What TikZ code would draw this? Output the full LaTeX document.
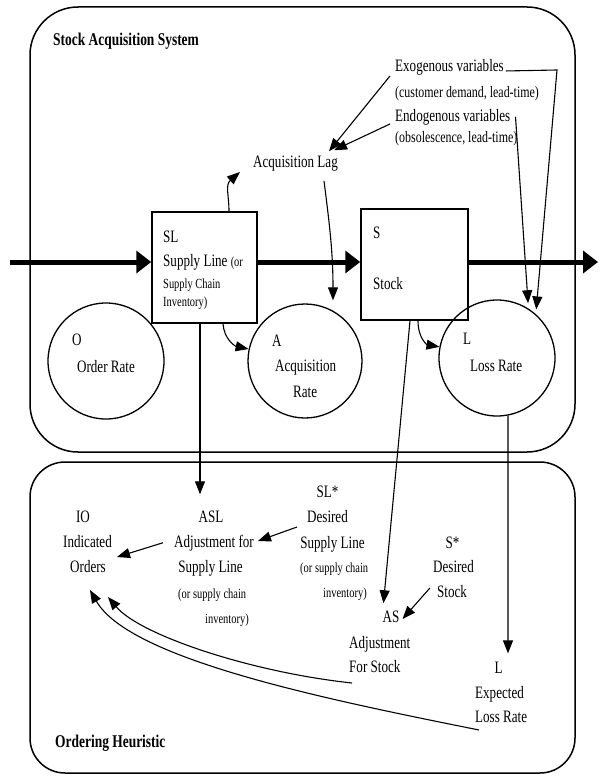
\documentclass[tikz,border=0pt]{standalone}
\usepackage{fontspec}
\setmainfont{Liberation Serif}[FakeStretch=0.75]
\usetikzlibrary{arrows.meta,calc}
\newcommand\mainsz{\fontsize{17.5}{20}\selectfont}
\newcommand\smallsz{\fontsize{14}{16}\selectfont}
\newcommand\midsz{\fontsize{16}{18}\selectfont}
\begin{document}
\begin{tikzpicture}[x=1bp,y=-1bp,
  lbl/.style={inner sep=0pt, anchor=base west, font=\mainsz},
  clbl/.style={inner sep=0pt, anchor=base, font=\mainsz},
  small/.style={font=\smallsz},
  mid/.style={font=\midsz},
  ttl/.style={font=\fontsize{18}{20}\selectfont\bfseries},
  frame/.style={draw, line width=1.5bp},
  stockbox/.style={draw, rectangle, line width=1.5bp, inner sep=0pt},
  rate/.style={draw, circle, line width=1.3bp, inner sep=0pt},
  arr/.style={line width=1.1bp, -{Triangle[length=13bp,width=10bp]}},
  thickarr/.style={line width=5bp, -{Triangle[length=15bp,width=22bp]}}
]
\path[use as bounding box, fill=white] (0,0) rectangle (600,776);

% frames
\draw[frame, rounded corners=48bp] (30,7) rectangle (575,452);
\draw[frame, rounded corners=35bp] (30,462) rectangle (575,773);

% stocks and rates
\node[stockbox, minimum width=105bp, minimum height=111bp] (SL) at (204.5,267.5) {};
\node[stockbox, minimum width=107bp, minimum height=111bp] (S) at (414.5,264.5) {};
\node[rate, minimum size=116bp] (O) at (106,361) {};
\node[rate, minimum size=114bp] (A) at (305,361) {};
\node[rate, minimum size=116bp] (L) at (497,358) {};

% titles
\node[lbl,ttl] (t1) at (53,46) {Stock Acquisition System};
\node[lbl,ttl] (t2) at (55,747) {Ordering Heuristic};

% top texts
\node[lbl] (slT1) at (163,242) {SL};
\node[lbl] (slT2) at (163,266) {Supply Line {\smallsz(or}};
\node[lbl,small] (slT3) at (163,288) {Supply Chain};
\node[lbl,small] (slT4) at (163,306) {Inventory)};
\node[lbl] (sT1) at (373,238) {S};
\node[lbl] (sT2) at (373,289) {Stock};
\node[lbl] (oT1) at (72,345) {O};
\node[clbl] (oT2) at (106,372) {Order Rate};
\node[lbl] (aT1) at (272,346) {A};
\node[lbl] (aT2) at (275,371) {Acquisition};
\node[lbl] (aT3) at (293,397) {Rate};
\node[lbl] (lT1) at (463,344) {L};
\node[lbl] (lT2) at (470,371) {Loss Rate};
\node[lbl] (lag) at (253,167) {Acquisition Lag};
\node[lbl] (exo) at (395,72) {Exogenous variables};
\node[lbl,mid] (exo2) at (395,97) {(customer demand, lead-time)};
\node[lbl] (endo) at (395,121) {Endogenous variables};
\node[lbl,mid] (endo2) at (395,142) {(obsolescence, lead-time)};

% bottom texts
\node[clbl] (io1) at (83,522) {IO};
\node[clbl] (io2) at (87.5,547) {Indicated};
\node[clbl] (io3) at (88,572) {Orders};
\node[clbl] (asl1) at (211,522) {ASL};
\node[clbl] (asl2) at (214,547) {Adjustment for};
\node[clbl] (asl3) at (210.5,572) {Supply Line};
\node[lbl,small] (asl4) at (178,598) {(or supply chain};
\node[lbl,small] (asl5) at (205,623) {inventory)};
\node[clbl] (dsl1) at (327.5,497) {SL*};
\node[clbl] (dsl2) at (327.5,522) {Desired};
\node[clbl] (dsl3) at (332.5,548) {Supply Line};
\node[lbl,small] (dsl4) at (300,572) {(or supply chain};
\node[lbl,small] (dsl5) at (323,597) {inventory)};
\node[clbl] (ds1) at (452.5,548) {S*};
\node[clbl] (ds2) at (453.5,572) {Desired};
\node[clbl] (ds3) at (452,597) {Stock};
\node[clbl] (as1) at (391,622) {AS};
\node[lbl] (as2) at (349,648) {Adjustment};
\node[lbl] (as3) at (349,672) {For Stock};
\node[clbl] (el1) at (498.5,673) {L};
\node[lbl] (el2) at (475,698) {Expected};
\node[lbl] (el3) at (475,722) {Loss Rate};

% free ends
\coordinate (fin) at (10,262);
\coordinate (fout) at (598,262);
\coordinate (exobend) at (557,70);

% main flow
\draw[thickarr] (fin) -- (fin -| SL.west);
\draw[thickarr] (fin -| SL.east) -- (fin -| S.west);
\draw[thickarr] (fin -| S.east) -- (fout);

% top connectors
\draw[arr] ($(SL.north)+(24.5,0)$) .. controls +(0,-16) and +(-15,13) .. ($(lag.south west)+(-13,1)$);
\draw[arr] ($(lag.south east)+(-14,10)$) .. controls +(5,40) and +(0,-50) .. ($(A.north)+(28,-3)$);
\draw[arr] ($(exo.south west)+(-5,0)$) -- ($(lag.north east)+(-9,-4)$);
\draw[arr] ($(endo.south west)+(-5,-1)$) -- ($(lag.north east)+(-4,-5)$);
\draw[arr] ($(exo.south east)+(2,-5)$) -- (exobend) -- ($(L.48)+(0,-5)$);
\draw[arr] ($(endo.east)+(5,0)$) -- ($(L.58)+(0,-5)$);
\draw[arr] ($(S.south)+(3.5,0)$) .. controls +(0,18) and +(-12,-2) .. (L.169);
\draw[arr] ($(SL.south)+(18.5,0)$) .. controls +(1,15) and +(-14,-3) .. (A.168);

% links to ordering heuristic
\draw[arr] ($(SL.south)+(-4.5,0)$) -- ($(asl1.north)+(-11,-16)$);
\draw[arr] ($(S.south)+(-4.5,0)$) -- ($(as1.north west)+(1,-7)$);
\draw[arr] ($(L.south)+(11,-1)$) -- ($(el1.north)+(9.5,-8)$);

% bottom connectors
\draw[arr] ($(asl2.west)+(-11,0)$) -- ($(io2.base east)+(5,10)$);
\draw[arr] ($(dsl2.base west)+(-10,5)$) -- ($(asl2.base east)+(4,-6)$);
\draw[arr] ($(ds3.base west)+(-7,-9)$) -- ($(as1.base east)+(3,-3)$);
\draw[arr] ($(as3.base west)+(3,11)$) .. controls +(-102,-11) and +(32,38) .. ($(io3.base)+(20,25)$);
\draw[arr] ($(el3.base west)+(4,8)$) .. controls +(-149,-30) and +(40,70) .. ($(io3.base)+(2,18)$);
\end{tikzpicture}
\end{document}
